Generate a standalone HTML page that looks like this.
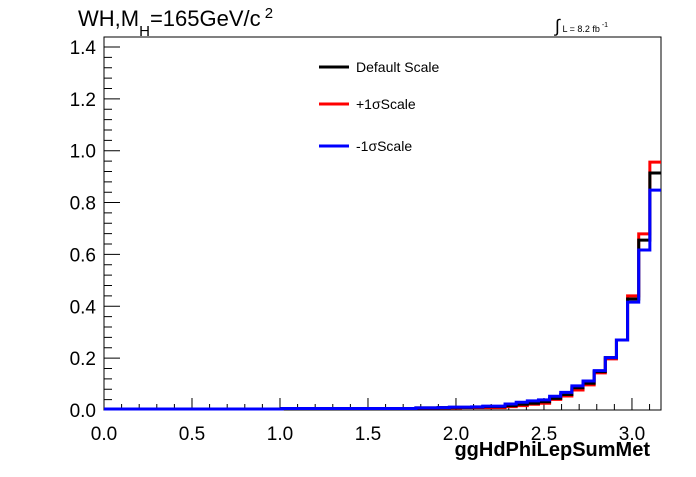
<!DOCTYPE html>
<html><head><meta charset="utf-8"><style>
body{margin:0;background:#fff;font-family:"Liberation Sans",sans-serif}
</style></head><body>
<svg id="c" width="696" height="472" xmlns="http://www.w3.org/2000/svg" font-family="Liberation Sans, sans-serif"></svg>
<script>
const defaultScale=[0.004,0.004,0.004,0.004,0.004,0.004,0.004,0.004,0.004,0.004,0.004,0.004,0.004,0.004,0.004,0.004,0.006,0.006,0.006,0.006,0.006,0.006,0.006,0.006,0.006,0.006,0.006,0.006,0.008,0.008,0.009,0.01,0.01,0.011,0.013,0.013,0.017,0.022,0.026,0.032,0.045,0.06,0.086,0.103,0.148,0.202,0.27,0.428,0.655,0.914];
const plusScale=[0.004,0.004,0.004,0.004,0.004,0.004,0.004,0.004,0.004,0.004,0.004,0.004,0.004,0.004,0.004,0.004,0.006,0.006,0.006,0.006,0.006,0.006,0.006,0.006,0.006,0.006,0.006,0.006,0.007,0.007,0.008,0.008,0.009,0.009,0.009,0.009,0.013,0.017,0.022,0.026,0.041,0.054,0.077,0.097,0.143,0.197,0.27,0.44,0.679,0.956];
const minusScale=[0.004,0.004,0.004,0.004,0.004,0.004,0.004,0.004,0.004,0.004,0.004,0.004,0.004,0.004,0.004,0.004,0.006,0.006,0.006,0.006,0.006,0.006,0.006,0.006,0.006,0.006,0.006,0.006,0.008,0.008,0.009,0.011,0.011,0.012,0.015,0.015,0.023,0.03,0.035,0.039,0.053,0.068,0.093,0.112,0.152,0.202,0.27,0.416,0.617,0.848];
const xTicks=["0.0","0.5","1.0","1.5","2.0","2.5","3.0"];
const yTicks=["0.0","0.2","0.4","0.6","0.8","1.0","1.2","1.4"];
const X0=104,X1=661,Y0=410,Y1=37,XMAX=3.165,YMAX=1.4385,NB=50;
const sx=v=>X0+v/XMAX*(X1-X0), sy=v=>Y0-v/YMAX*(Y0-Y1);
const svg=document.getElementById('c'),NS="http://www.w3.org/2000/svg";
function mk(t,a,p){const e=document.createElementNS(NS,t);for(const k in a)e.setAttribute(k,a[k]);(p||svg).appendChild(e);return e;}
let e;
e=mk('rect',{x:X0,y:Y1,width:X1-X0,height:Y0-Y1,fill:'none',stroke:'#000','stroke-width':1});


// ticks
let d='';
for(let i=0;i<=35;i++){const v=i*0.04;if(v>YMAX)break;const y=sy(v);d+=`M${X0} ${y}h${i%5==0?16:8}`;}
for(let i=0;i<=31;i++){const v=i*0.1;if(v>XMAX)break;const x=sx(v);d+=`M${x} ${Y0}v${i%5==0?-12:-6}`;}
e=mk('path',{d:d,stroke:'#000','stroke-width':1,fill:'none'});


yTicks.forEach((t,i)=>{e=mk('text',{x:X0-8,y:sy(i*0.2)+7,'text-anchor':'end','font-size':19});e.textContent=t;

});
xTicks.forEach((t,i)=>{e=mk('text',{x:sx(i*0.5),y:Y0+30,'text-anchor':'middle','font-size':19});e.textContent=t;

});
function hist(vals,color,name){const w=XMAX/NB;let p=`M${X0} ${sy(vals[0])}`;
vals.forEach((v,i)=>{p+=`L${sx(i*w)} ${sy(v)}L${sx((i+1)*w)} ${sy(v)}`;});
e=mk('path',{d:p,stroke:color,'stroke-width':3,fill:'none'});

}
hist(plusScale,'#f00','series-plus1sigma');
hist(defaultScale,'#000','series-default');
hist(minusScale,'#00f','series-minus1sigma');
const leg=[['Default Scale','#000',67],['+1σScale','#f00',104],['-1σScale','#00f',146]];
leg.forEach(l=>{const g=mk('g',{});
mk('line',{x1:319,x2:349,y1:l[2],y2:l[2],stroke:l[1],'stroke-width':3},g);
const t=mk('text',{x:356,y:l[2]+5,'font-size':14},g);t.textContent=l[0];});
e=mk('text',{x:650,y:456,'text-anchor':'end','font-size':20,'font-weight':'bold'});e.textContent='ggHdPhiLepSumMet';


e=mk('text',{x:78,y:26,'font-size':22});e.innerHTML='WH,M<tspan dy="10" font-size="15">H</tspan><tspan dy="-10">=165GeV/c</tspan><tspan dy="-8" font-size="15"> 2</tspan>';


e=mk('text',{x:555,y:32,'font-size':9});e.innerHTML='<tspan font-size="18">∫</tspan> L = 8.2 fb<tspan dy="-5" font-size="7"> -1</tspan>';


</script>
</body></html>
